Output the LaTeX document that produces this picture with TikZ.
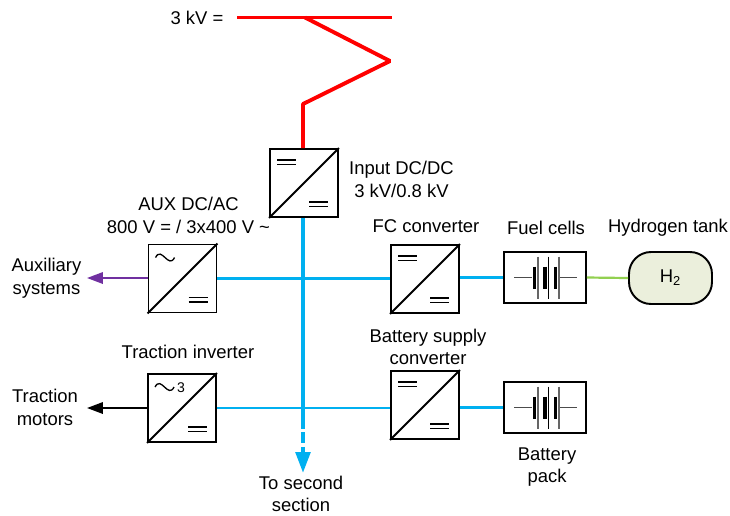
\documentclass[tikz,border=0pt]{standalone}
\usepackage{fontspec}
\setmainfont{Liberation Sans}
\usetikzlibrary{arrows.meta,positioning}
\definecolor{cred}{HTML}{FF0000}
\definecolor{cbus}{HTML}{00B0F0}
\definecolor{cgas}{HTML}{92D050}
\definecolor{caux}{HTML}{7030A0}
\definecolor{ctank}{HTML}{EBEFDC}
\tikzset{
  lbl/.style={font=\fontsize{10.5}{12.8}\selectfont, align=center, inner sep=0pt},
  conv/.style={draw, line width=1.1pt, minimum width=1.36cm, minimum height=1.36cm, inner sep=0pt},
  cell/.style={draw, line width=1.1pt, minimum width=1.64cm, minimum height=1.02cm, inner sep=0pt},
  tank/.style={draw, line width=1.1pt, fill=ctank, rounded corners=0.44cm, minimum width=1.66cm, minimum height=1.04cm, inner sep=0pt, font=\fontsize{10.5}{12.8}\selectfont},
  hv/.style={cred, line width=2.2pt},
  bus/.style={cbus, line width=1.25pt},
  mainbus/.style={cbus, line width=2.3pt},
  outline/.style={-{Triangle[length=0.32cm,width=0.23cm]}, line width=1.1pt},
  bar/.style={line width=0.75pt},
}
\begin{document}
\begin{tikzpicture}[x=0.02cm,y=-0.02cm]
\useasboundingbox (0,0) rectangle (730,515);
% converters and cells
\node[conv] (ind) at (304,183) {};
\node[conv] (aux) at (182.5,278.5) {};
\node[conv] (fcc) at (425,279) {};
\node[conv] (tin) at (182,408) {};
\node[conv] (bsc) at (425,405) {};
\node[cell] (fcs) at (545,277.5) {};
\node[cell] (bat) at (545,407.5) {};
\node[tank] (hyd) at (670.5,278) {H\textsubscript{2}};
% supply
\coordinate (rl) at (237,17.5);
\coordinate (rr) at (392,17.5);
\coordinate (rs) at (305,17.5);
\coordinate (rz) at (390,61);
\coordinate (rb) at (303,104);
\draw[hv] (rl) -- (rr);
\draw[hv, line join=bevel] (rs) -- (rz) -- (rb) -- (rb |- ind.north);
% buses
\coordinate (sec) at (303,418);
\coordinate (sectip) at (303,473);
\draw[bus] (aux.east) -- (aux.east -| fcc.west);
\draw[bus] (tin.east) -- (tin.east -| bsc.west);
\draw[bus] (fcc.east |- fcs.west) -- (fcs.west);
\draw[bus] (bsc.east |- bat.west) -- (bat.west);
\draw[mainbus] (sec |- ind.south) -- (sec);
\draw[mainbus, dash pattern=on 6pt off 2.2pt, -{Triangle[length=0.42cm,width=0.29cm]}] (sec) -- (sectip);
\draw[cgas, line width=1.25pt] (fcs.east) -- (hyd.west);
% outputs
\coordinate (auxtip) at (87,278);
\coordinate (tintip) at (87,408);
\draw[outline, caux] (auxtip -| aux.west) -- (auxtip);
\draw[outline] (tin.west) -- (tintip);
% inside the converters
\foreach \n in {ind,fcc,bsc} {
  \draw[line width=1.1pt] (\n.south west) -- (\n.north east);
  \draw[bar] ([shift={(8,12)}]\n.north west) -- ++(19,0) ([shift={(8,16.5)}]\n.north west) -- ++(19,0);
  \draw[bar] ([shift={(40,54)}]\n.north west) -- ++(19,0) ([shift={(40,58.5)}]\n.north west) -- ++(19,0);
}
\foreach \n in {aux,tin} {
  \draw[line width=1.1pt] (\n.south west) -- (\n.north east);
  \draw[bar] ([shift={(8,14)}]\n.north west) .. controls +(6,-12) and +(-6,12) .. +(19,0);
  \draw[bar] ([shift={(41,54)}]\n.north west) -- ++(19,0) ([shift={(41,58.5)}]\n.north west) -- ++(19,0);
}
\node[lbl, font=\fontsize{8}{10}\selectfont] (three) at (181,388) {3};
% cell symbols
\foreach \n in {fcs,bat} {
  \draw[black!70, line width=0.6pt] ([shift={(-31,0)}]\n.center) -- ++(18,0);
  \draw[black!70, line width=0.6pt] ([shift={(13,0)}]\n.center) -- ++(19,0);
  \foreach \d in {-10.5,0,10.5} \draw[line width=2.2pt] ([shift={(\d,-11)}]\n.center) -- ++(0,22);
  \foreach \d in {-7,14} \draw[black!60, line width=0.7pt] ([shift={(\d,-21)}]\n.center) -- ++(0,42);
  \draw[line width=0.6pt] ([shift={(3.5,-21)}]\n.center) -- ++(0,42);
}
% labels
\node[lbl] (lv) at (197,18) {3 kV =};
\node[lbl] (lind) at (401.5,179.5) {Input DC/DC\\3 kV/0.8 kV};
\node[lbl] (laux) at (188.5,215.5) {AUX DC/AC\\800 V = / 3x400 V \char`~};
\node[lbl] (lfcc) at (426,226) {FC converter};
\node[lbl] (lfcs) at (546,228) {Fuel cells};
\node[lbl] (lhyd) at (668,228) {Hydrogen tank};
\node[lbl] (lasy) at (46.5,278) {Auxiliary\\systems};
\node[lbl] (ltin) at (188,352) {Traction inverter};
\node[lbl] (lbsc) at (428,347) {Battery supply\\converter};
\node[lbl] (ltmo) at (45,407.5) {Traction\\motors};
\node[lbl] (lbat) at (547,467) {Battery\\pack};
\node[lbl] (lsec) at (301,494) {To second\\section};
\end{tikzpicture}
\end{document}
